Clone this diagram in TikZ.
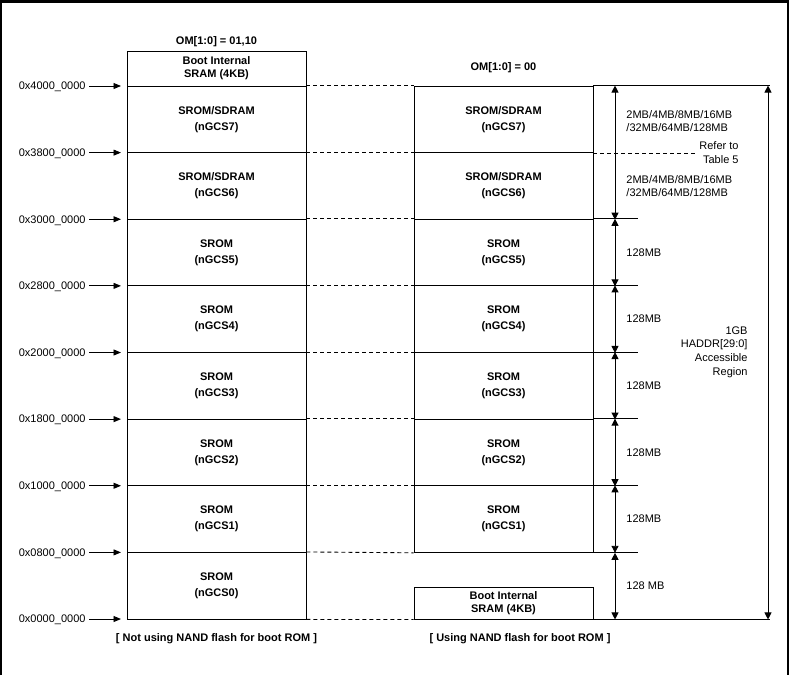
\documentclass[tikz,border=0pt]{standalone}
\usepackage{fontspec}
\setmainfont{Liberation Sans}
\usetikzlibrary{arrows.meta}

\begin{document}
\begin{tikzpicture}
  [x=1pt,y=-1pt,line width=0.9pt,
   every node/.style={font=\fontsize{11}{13.5}\selectfont,inner sep=0pt},
   blk/.style={draw,minimum width=179pt,minimum height=66.6pt,align=center,font=\fontsize{11}{16}\selectfont\bfseries},
   sram/.style={blk,font=\fontsize{11}{13}\selectfont\bfseries},
   addr/.style={anchor=east,text depth=0pt},
   side/.style={anchor=west,align=left},
   tip/.style={-{Triangle[length=7.5pt,width=6pt]}},
   dim/.style={{Triangle[length=7pt,width=7pt]}-{Triangle[length=7pt,width=7pt]}}]

  \useasboundingbox (0,0) rectangle (789,675);
  %%%%%%%%%%%%%%%%%%%%%% FRAME %%%%%%%%%%%%%%%%%%%%%%
  \draw[line width=2pt] (1,675) -- (1,1.5) -- (788,1.5) -- (788,675);
  \draw[line width=3pt] (0,1.5) -- (789,1.5);

  %%%%%%%%%%%%%%%%%%%%%% LEFT: OM = 01,10 %%%%%%%%%%%%%%%%%%%%%%
  \node[font=\fontsize{11}{13}\selectfont\bfseries] (om_a) at (216.5,42) {OM[1:0] = 01,10};
  \node[sram,minimum height=35pt] (lboot) at (216.5,68.5) {Boot Internal\\SRAM (4KB)};
  \foreach \k in {7,6}
    \node[blk] (lbox_\k) at (216.5,{86+66.625*(7.5-\k)}) {SROM/SDRAM\\(nGCS\k)};
  \foreach \k in {5,...,0}
    \node[blk] (lbox_\k) at (216.5,{86+66.625*(7.5-\k)}) {SROM\\(nGCS\k)};

  \foreach \i/\a in {0/4000,1/3800,2/3000,3/2800,4/2000,5/1800,6/1000,7/0800,8/0000}
  {
    \node[addr] (addr_\i) at (86,{86+66.625*\i}) {0x\a\_0000};
    \coordinate (tip_\i) at (121,{86+66.625*\i});
    \draw[tip,shorten <=3pt] (addr_\i) -- (tip_\i);
  }

  %%%%%%%%%%%%%%%%%%%%%% RIGHT: OM = 00 %%%%%%%%%%%%%%%%%%%%%%
  \node[font=\fontsize{11}{13}\selectfont\bfseries] (om_b) at (503.5,68) {OM[1:0] = 00};
  \foreach \k in {7,6}
    \node[blk] (rbox_\k) at (503.5,{86+66.625*(7.5-\k)}) {SROM/SDRAM\\(nGCS\k)};
  \foreach \k in {5,...,1}
    \node[blk] (rbox_\k) at (503.5,{86+66.625*(7.5-\k)}) {SROM\\(nGCS\k)};
  \node[sram,minimum height=32pt] (rboot) at (503.5,603) {Boot Internal\\SRAM (4KB)};

  % dashed links between the two maps
  \foreach \k in {7,...,1}
    \draw[dash pattern=on 4pt off 3pt] (lbox_\k.north east) -- (rbox_\k.north west);
  \draw[dash pattern=on 4pt off 3pt] (lbox_0.north east) -- (rbox_1.south west);
  \draw[dash pattern=on 4pt off 3pt] (lbox_0.south east) -- (rboot.south west);

  %%%%%%%%%%%%%%%%%%%%%% SIZES %%%%%%%%%%%%%%%%%%%%%%
  \coordinate (ext) at (638,0);
  \coordinate (dimx) at (615,0);
  \coordinate (gbx) at (768,0);
  \coordinate (endx) at (770,0);
  \coordinate (refx) at (697,0);

  \draw (rbox_7.north east) -- (rbox_7.north east -| endx);
  \draw[dash pattern=on 4pt off 3pt] (rbox_7.south east) -- (rbox_7.south east -| refx);
  \foreach \k in {5,...,1}
    \draw (rbox_\k.north east) -- (rbox_\k.north east -| ext);
  \draw (rbox_1.south east) -- (rbox_1.south east -| ext);
  \draw (rboot.south east) -- (rboot.south east -| endx);

  \draw[dim] (rbox_7.north -| dimx) -- (rbox_6.south -| dimx);
  \foreach \k in {5,...,1}
    \draw[dim] (rbox_\k.north -| dimx) -- (rbox_\k.south -| dimx);
  \draw[dim] (rbox_1.south -| dimx) -- (rboot.south -| dimx);
  \draw[dim] (rbox_7.north -| gbx) -- (rboot.south -| gbx);

  \node[side,font=\fontsize{11}{13}\selectfont] (size_7) at (626,121) {2MB/4MB/8MB/16MB\\/32MB/64MB/128MB};
  \node[side,font=\fontsize{11}{13}\selectfont] (size_6) at (626,186) {2MB/4MB/8MB/16MB\\/32MB/64MB/128MB};
  \node[anchor=east,align=right,font=\fontsize{11}{14}\selectfont] (refer) at (739,153) {Refer to\\Table 5};
  \foreach \k in {5,...,1}
    \node[side] (size_\k) at (626,{86+66.625*(7.5-\k)}) {128MB};
  \node[side] (size_0) at (626,585.5) {128 MB};
  \node[anchor=east,align=right,font=\fontsize{11}{13.7}\selectfont] (gb) at (748,352) {1GB\\HADDR[29:0]\\Accessible\\Region};

  %%%%%%%%%%%%%%%%%%%%%% CAPTIONS %%%%%%%%%%%%%%%%%%%%%%
  \node[font=\fontsize{11}{13}\selectfont\bfseries] (note_a) at (216.5,639) {[ Not using NAND flash for boot ROM ]};
  \node[font=\fontsize{11}{13}\selectfont\bfseries] (note_b) at (520,639) {[ Using NAND flash for boot ROM ]};

\end{tikzpicture}
\end{document}
